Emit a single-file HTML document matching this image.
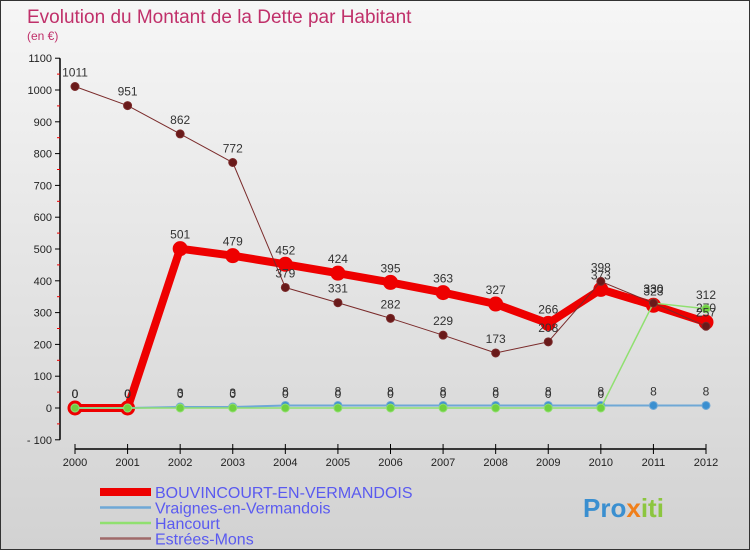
<!DOCTYPE html>
<html><head><meta charset="utf-8"><style>
body{margin:0;width:750px;height:550px;overflow:hidden;font-family:"Liberation Sans",sans-serif}
#c{position:absolute;left:0;top:0;width:748px;height:548px;border:1px solid #333;background:linear-gradient(#f6f6f6,#d2d2d2)}
</style></head><body>
<div id="c"></div>
<svg id="s" width="750" height="550" style="position:absolute;left:0;top:0" font-family="Liberation Sans, sans-serif">
<text x="27" y="23" font-size="19" fill="#c0306a">Evolution du Montant de la Dette par Habitant</text>
<text x="27" y="40" font-size="12" fill="#c0306a">(en €)</text>
<g id="axes"></g><g id="series"></g><g id="legend"></g>
<text x="583" y="517" font-size="26" font-weight="bold" fill="#3a8fd0">Pro<tspan fill="#f07f1a">x</tspan><tspan fill="#8cc63f">iti</tspan></text>
</svg>
<script>
const years=[2000,2001,2002,2003,2004,2005,2006,2007,2008,2009,2010,2011,2012];
const yTicks=[-100,0,100,200,300,400,500,600,700,800,900,1000,1100];
const bouv=[0,0,501,479,452,424,395,363,327,266,373,323,270];
const vraig=[0,0,3,3,8,8,8,8,8,8,8,8,8];
const hanc=[0,0,0,0,0,0,0,0,0,0,0,330,312];
const estr=[1011,951,862,772,379,331,282,229,173,208,398,330,257];
const names=["BOUVINCOURT-EN-VERMANDOIS","Vraignes-en-Vermandois","Hancourt","Estrées-Mons"];
const NS="http://www.w3.org/2000/svg";
const X=i=>75+i*(706-75)/12;
const Y=v=>408-v*0.318;
function mk(p,t,a){const e=document.createElementNS(NS,t);for(const k in a)e.setAttribute(k,a[k]);p.appendChild(e);return e;}
const ax=document.getElementById('axes');
let l=mk(ax,'line',{x1:60,y1:Y(1100),x2:60,y2:Y(-100),stroke:'#000','stroke-width':1.5});

l=mk(ax,'line',{x1:X(0),y1:449,x2:X(12),y2:449,stroke:'#000','stroke-width':1.5});

yTicks.forEach(v=>{
 mk(ax,'line',{x1:55,y1:Y(v),x2:60,y2:Y(v),stroke:'#000'});
 if(v<1100) mk(ax,'line',{x1:57,y1:Y(v+50),x2:60,y2:Y(v+50),stroke:'#e00'});
 const t=mk(ax,'text',{x:52,y:Y(v)+4,'text-anchor':'end','font-size':11,fill:'#222'});
 t.textContent=v<0?'- '+(-v):v;
 
 
});
years.forEach((y,i)=>{
 mk(ax,'line',{x1:X(i),y1:444,x2:X(i),y2:454,stroke:'#000'});
 const t=mk(ax,'text',{x:X(i),y:466,'text-anchor':'middle','font-size':11,fill:'#222'});
 t.textContent=y;
 
 
});
const sg=document.getElementById('series');
function series(d,col,w,r,fill,name){
 const g=mk(sg,'g',{});
 
 
 const pl=mk(g,'polyline',{points:d.map((v,i)=>X(i)+','+Y(v)).join(' '),fill:'none',stroke:col,'stroke-width':w,'stroke-linejoin':'round'});
 
 
 d.forEach((v,i)=>{
  const c=mk(g,'circle',{cx:X(i),cy:Y(v),r:r,fill:fill,stroke:col,'stroke-width':1});
  
  
  const t=mk(g,'text',{x:X(i),y:Y(v)-10,'text-anchor':'middle','font-size':12,fill:'#333'});
  t.textContent=v;
  
  
 });
}
series(bouv,'#ee0000',8,7,'#ee0000','bouvincourt-series');
series(vraig,'#6fa8d6',2,4,'#3a8fd0','vraignes-series');
series(hanc,'#90e070',1.5,4,'#70d040','hancourt-series');
series(estr,'#7a2a2a',1,4,'#6a1a1a','estrees-series');
const lg=document.getElementById('legend');
const cols=['#ee0000','#6fa8d6','#90e070','#a06a6a'],ws=[8,2.5,2.5,2.5];
names.forEach((n,i)=>{
 const y=492+i*15.5;
 const ln=mk(lg,'line',{x1:100,y1:y,x2:151,y2:y,stroke:cols[i],'stroke-width':ws[i]});
 
 
 const t=mk(lg,'text',{x:155,y:y+6,'font-size':16,fill:'#5a5af0'});
 t.textContent=n;
 
 
});
</script>
</body></html>
